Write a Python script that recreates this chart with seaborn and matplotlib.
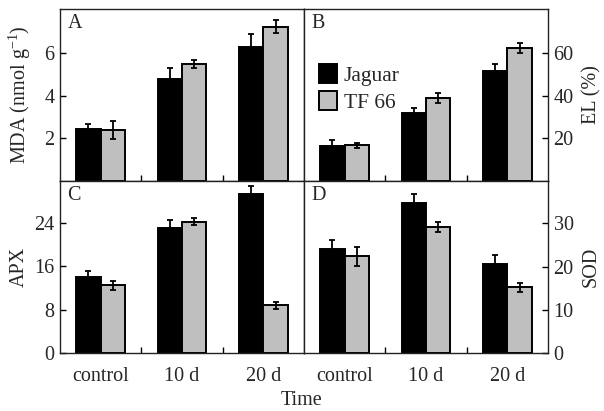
import numpy as np
import pandas as pd
import matplotlib
matplotlib.use("Agg")
import matplotlib.pyplot as plt
import seaborn as sns
from matplotlib.patches import Patch

sns.set_theme(style="white")
plt.rcParams['font.family'] = ['Liberation Serif', 'DejaVu Serif']
plt.rcParams['mathtext.fontset'] = 'custom'
plt.rcParams['mathtext.rm'] = 'Liberation Serif'
plt.rcParams['mathtext.it'] = 'Liberation Serif:italic'

times = ["control", "10 d", "20 d"]
cultivars = ["Jaguar", "TF 66"]

mda_jaguar = [2.42, 4.79, 6.25]
mda_tf66 = [2.39, 5.49, 7.22]
mda_jaguar_err = [0.27, 0.48, 0.65]
mda_tf66_err = [0.42, 0.18, 0.30]

el_jaguar = [16.4, 31.8, 51.3]
el_tf66 = [16.7, 38.7, 62.2]
el_jaguar_err = [2.8, 2.5, 3.3]
el_tf66_err = [1.3, 2.4, 2.3]

apx_jaguar = [14.1, 23.1, 29.4]
apx_tf66 = [12.5, 24.3, 8.8]
apx_jaguar_err = [1.1, 1.5, 1.5]
apx_tf66_err = [0.9, 0.6, 0.6]

sod_jaguar = [24.0, 34.8, 20.7]
sod_tf66 = [22.4, 29.1, 15.2]
sod_jaguar_err = [2.1, 2.1, 1.9]
sod_tf66_err = [2.2, 1.1, 1.0]

colors = {"Jaguar": "#000000", "TF 66": "#bfbfbf"}
FS = 14.5

fig, axes = plt.subplots(2, 2, figsize=(6.04, 4.11), dpi=100)
fig.subplots_adjust(left=60/604, right=548/604, top=1-9/411, bottom=1-353/411,
                    wspace=0, hspace=0)

panels = [
    (axes[0, 0], "A", mda_jaguar, mda_tf66, mda_jaguar_err, mda_tf66_err, (0, 8.05), [2, 4, 6], r"MDA (nmol g$^{-1}$)", "left", 8),
    (axes[0, 1], "B", el_jaguar, el_tf66, el_jaguar_err, el_tf66_err, (0, 80.5), [20, 40, 60], "EL (%)", "right", 6),
    (axes[1, 0], "C", apx_jaguar, apx_tf66, apx_jaguar_err, apx_tf66_err, (0, 31.8), [0, 8, 16, 24], "APX", "left", 4),
    (axes[1, 1], "D", sod_jaguar, sod_tf66, sod_jaguar_err, sod_tf66_err, (0, 39.8), [0, 10, 20, 30], "SOD", "right", 6),
]

for ax, letter, vj, vt, ej, et, ylim, yticks, ylabel, side, lpad in panels:
    df = pd.DataFrame({
        "Time": times * 2,
        "Cultivar": [cultivars[0]] * 3 + [cultivars[1]] * 3,
        "Value": vj + vt,
        "Err": ej + et,
    })
    sns.barplot(data=df, x="Time", y="Value", hue="Cultivar", order=times,
                hue_order=cultivars, palette=colors, width=0.6, gap=0,
                edgecolor="black", linewidth=1.4, errorbar=None, ax=ax,
                legend=False, saturation=1)
    for cont, errs in zip(ax.containers, [ej, et]):
        xs = [b.get_x() + b.get_width() / 2 for b in cont]
        hs = [b.get_height() for b in cont]
        ax.errorbar(xs, hs, yerr=errs, fmt="none", ecolor="black",
                    elinewidth=1.3, capsize=2.5, capthick=1.3, zorder=5)
    ax.set_xlim(-0.5, 2.5)
    ax.set_ylim(*ylim)
    ax.set_yticks(yticks)
    ax.set_xlabel("")
    for s in ax.spines.values():
        s.set_visible(True)
        s.set_color("#222222")
        s.set_linewidth(1.0)
    ax.set_xticks([0.5, 1.5], minor=True)
    ax.tick_params(axis="x", which="minor", direction="in", length=4, width=1, color="black", bottom=True)
    ax.tick_params(axis="x", which="major", length=0, labelsize=FS, pad=10)
    if side == "left":
        ax.tick_params(axis="y", direction="in", length=4, width=1, left=True, right=False,
                       labelleft=True, labelright=False, labelsize=FS, color="black", pad=4)
        ax.yaxis.set_label_position("left")
    else:
        ax.tick_params(axis="y", direction="in", length=4, width=1, left=False, right=True,
                       labelleft=False, labelright=True, labelsize=FS, color="black", pad=4)
        ax.yaxis.set_label_position("right")
    ax.set_ylabel(ylabel, fontsize=FS, rotation=90, labelpad=lpad)
    ax.text(0.03, 0.97, letter, transform=ax.transAxes, ha="left", va="top", fontsize=FS)
    if ax in (axes[0, 0], axes[0, 1]):
        ax.set_xticklabels([])

handles = [Patch(facecolor=colors[c], edgecolor="black", linewidth=1.4, label=c) for c in cultivars]
axes[0, 1].legend(handles=handles, loc="upper left", bbox_to_anchor=(0.0, 0.77),
                  frameon=False, fontsize=15.5, handlelength=0.85, handleheight=1.0,
                  handletextpad=0.3, labelspacing=0.25, borderaxespad=0.3)

fig.text(302/604, 1 - 400/411, "Time", ha="center", va="center", fontsize=FS)

fig.savefig("out.png", dpi=100)
